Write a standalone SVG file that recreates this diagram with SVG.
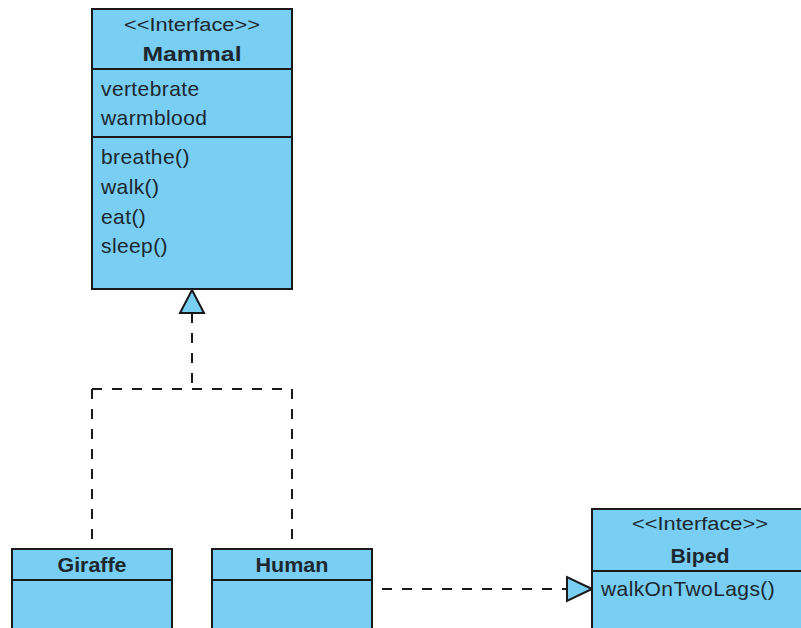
<svg xmlns="http://www.w3.org/2000/svg" width="801" height="628" viewBox="0 0 801 628">
<style>
.box{fill:#79CEF3;stroke:#1a1a1a;stroke-width:2}
.div{stroke:#1a1a1a;stroke-width:2}
.t{font-family:"Liberation Sans",Arial,sans-serif;font-size:21px;letter-spacing:0.4px;fill:#1c2730}
.st{font-family:"Liberation Sans",Arial,sans-serif;font-size:18px;fill:#1c2730;text-anchor:middle}
.n{font-family:"Liberation Sans",Arial,sans-serif;font-size:21px;font-weight:bold;fill:#1c2730;text-anchor:middle}
.dash{fill:none;stroke:#1a1a1a;stroke-width:2;stroke-dasharray:10,10}
.tri{fill:#79CEF3;stroke:#1a1a1a;stroke-width:2;stroke-linejoin:miter}
</style>
<rect width="801" height="628" fill="#ffffff"/>
<g id="connectors">
<path class="dash" d="M192,313 V389"/>
<path class="dash" d="M92,389 H292"/>
<path class="dash" d="M92,389 V540"/>
<path class="dash" d="M292,389 V540"/>
<polygon class="tri" points="192,290 180,313 204,313"/>
<path class="dash" d="M382,589 H567"/>
<polygon class="tri" points="592,589 567,577 567,601"/>
</g>
<g id="Mammal">
<rect class="box" x="92" y="9" width="200" height="280"/>
<line class="div" x1="92" y1="69" x2="292" y2="69"/>
<line class="div" x1="92" y1="137" x2="292" y2="137"/>
<text class="st" x="192" y="31" textLength="136" lengthAdjust="spacingAndGlyphs">&lt;&lt;Interface&gt;&gt;</text>
<text class="n" x="192" y="61" textLength="99" lengthAdjust="spacingAndGlyphs">Mammal</text>
<text class="t" x="101" y="96">vertebrate</text>
<text class="t" x="101" y="125">warmblood</text>
<text class="t" x="101" y="164">breathe()</text>
<text class="t" x="101" y="194">walk()</text>
<text class="t" x="101" y="224">eat()</text>
<text class="t" x="101" y="253">sleep()</text>
</g>
<g id="Giraffe">
<rect class="box" x="12" y="549" width="160" height="90"/>
<line class="div" x1="12" y1="580" x2="172" y2="580"/>
<text class="n" x="92" y="572" textLength="69" lengthAdjust="spacingAndGlyphs">Giraffe</text>
</g>
<g id="Human">
<rect class="box" x="212" y="549" width="160" height="90"/>
<line class="div" x1="212" y1="580" x2="372" y2="580"/>
<text class="n" x="292" y="572" textLength="73" lengthAdjust="spacingAndGlyphs">Human</text>
</g>
<g id="Biped">
<rect class="box" x="592" y="509" width="216" height="130"/>
<line class="div" x1="592" y1="571" x2="808" y2="571"/>
<text class="st" x="700" y="530" textLength="136" lengthAdjust="spacingAndGlyphs">&lt;&lt;Interface&gt;&gt;</text>
<text class="n" x="700" y="563" textLength="59" lengthAdjust="spacingAndGlyphs">Biped</text>
<text class="t" x="601" y="596">walkOnTwoLags()</text>
</g>
</svg>
